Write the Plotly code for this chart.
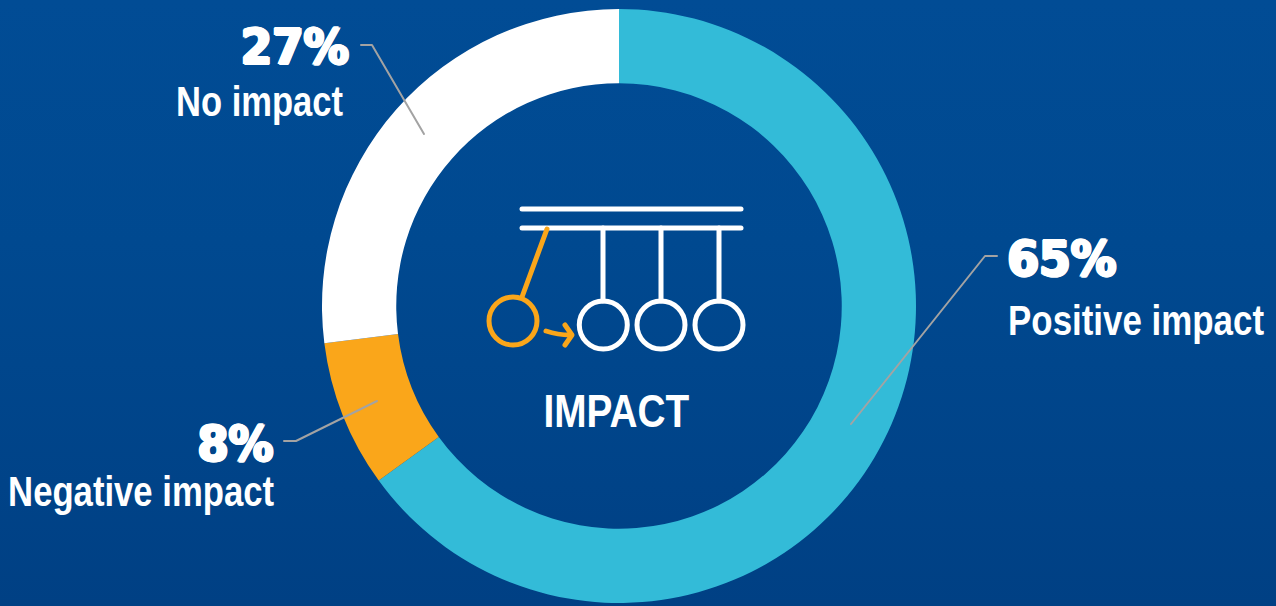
import plotly.graph_objects as go

# Survey shares for the ring, clockwise from twelve o'clock
categories = ["Positive impact", "Negative impact", "No impact"]
shares = [65, 8, 27]
share_labels = ["65%", "8%", "27%"]
slice_colors = ["#33BBD8", "#FAA61A", "#FFFFFF"]

WIDTH, HEIGHT = 1276, 606
CX, CY, R_OUT = 619, 306, 297

LABEL_FONT = "Liberation Sans, Arial, sans-serif"
PCT_FONT = "DejaVu Sans, Arial, sans-serif"
WHITE = "#FFFFFF"
ORANGE = "#FAA61A"
GREY = "#A3A3A3"
THICKEN = "1.6px 0 #fff, -1.6px 0 #fff, 0 0.5px #fff, 0 -0.5px #fff, 1px 0.5px #fff, -1px -0.5px #fff"

fig = go.Figure()

# Page backdrop: a vertical blue gradient behind everything
fig.add_trace(go.Scatter(
    x=[0, WIDTH, WIDTH, 0, 0], y=[0, 0, HEIGHT, HEIGHT, 0],
    mode="lines", line=dict(width=0), hoverinfo="skip", showlegend=False,
    fill="toself",
    fillgradient=dict(type="vertical",
                      colorscale=[[0, "#004084"], [0.6, "#004990"], [1, "#014C95"]]),
))

fig.add_trace(go.Pie(
    labels=categories, values=shares, hole=0.75, sort=False,
    direction="clockwise", rotation=0, textinfo="none", showlegend=False,
    marker=dict(colors=slice_colors, line=dict(width=0)),
    domain=dict(x=[(CX - R_OUT) / WIDTH, (CX + R_OUT) / WIDTH],
                y=[1 - (CY + R_OUT) / HEIGHT, 1 - (CY - R_OUT) / HEIGHT]),
))

def line(x0, y0, x1, y1, color=WHITE, width=5):
    return dict(type="line", xref="x", yref="y", x0=x0, y0=y0, x1=x1, y1=y1,
                line=dict(color=color, width=width), layer="above")

def circle(cx, cy, r, color=WHITE, width=5):
    return dict(type="circle", xref="x", yref="y",
                x0=cx - r, x1=cx + r, y0=cy - r, y1=cy + r,
                line=dict(color=color, width=width), layer="above")

def polyline(path, color, width):
    return dict(type="path", xref="x", yref="y", path=path,
                line=dict(color=color, width=width), layer="above")

shapes = [
    # Leader lines from each slice to its label
    polyline("M361,45 L372,45 L424,134", GREY, 2),
    polyline("M284,441 L296,441 L377,401", GREY, 2),
    polyline("M997,256 L985,256 L851,424", GREY, 2),
    # Newton's cradle icon in the middle of the ring
    polyline("M522,209 L741,209", WHITE, 5),
    polyline("M522,228 L741,228", WHITE, 5),
    line(603, 228, 603, 301),
    line(661, 228, 661, 301),
    line(719, 228, 719, 301),
    circle(603.3, 325, 24),
    circle(661, 325, 24),
    circle(719, 325, 24),
    line(547, 229, 522, 297, ORANGE),
    circle(513, 321, 24, ORANGE),
    polyline("M546,331 Q558,335 570,335", ORANGE, 5),
    polyline("M565,325 L572,335 L565,345", ORANGE, 5),
]

def text(x, y, s, size, font=LABEL_FONT, shadow=None):
    return dict(xref="x", yref="y", x=x, y=y, text="<b>" + s + "</b>", showarrow=False,
                xanchor="center", yanchor="middle",
                font=dict(family=font, size=size, color=WHITE,
                          **({"shadow": shadow} if shadow else {})))

annotations = [
    text(295, 47, share_labels[2], 50, PCT_FONT, THICKEN),
    text(259.5, 101, categories[2], 42),
    text(235, 444, share_labels[1], 50, PCT_FONT, THICKEN),
    text(141, 491, categories[1], 42),
    text(1061.5, 259, share_labels[0], 50, PCT_FONT, THICKEN),
    text(1136, 320, categories[0], 42),
    text(616, 410, "IMPACT", 47),
]

fig.update_layout(
    width=WIDTH, height=HEIGHT,
    margin=dict(l=0, r=0, t=0, b=0),
    paper_bgcolor="#004990", plot_bgcolor="#004990",
    xaxis=dict(range=[0, WIDTH], visible=False, fixedrange=True),
    yaxis=dict(range=[HEIGHT, 0], visible=False, fixedrange=True),
    shapes=shapes, annotations=annotations,
)

# Rounded stroke ends for the icon, and set widths for the condensed and heavy labels
CONDENSE = """
var gd = document.getElementById('{plot_id}');
gd.querySelectorAll('.shapelayer path').forEach(function (p) {
  p.style.strokeLinecap = 'round';
  p.style.strokeLinejoin = 'round';
});
var widths = {'No impact': 167, 'Negative impact': 266, 'Positive impact': 256, 'IMPACT': 146,
              '27%': 108, '8%': 76, '65%': 109};
gd.querySelectorAll('.annotation-text').forEach(function (t) {
  var w = widths[t.textContent];
  if (w) {
    var b = t.getBBox();
    var c = b.x + b.width / 2;
    t.setAttribute('transform',
      'translate(' + c + ',0) scale(' + (w / b.width) + ',1) translate(' + (-c) + ',0)');
  }
});
"""

fig.write_html("out.html", config={"displayModeBar": False}, post_script=CONDENSE)
